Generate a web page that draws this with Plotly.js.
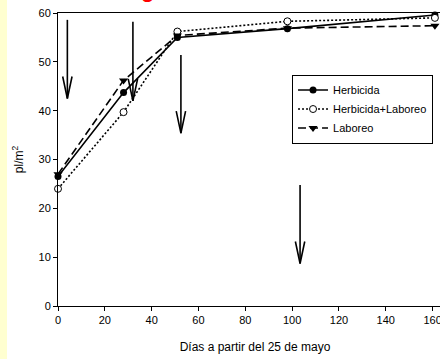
<!DOCTYPE html>
<html>
<head>
<meta charset="utf-8">
<script src="https://cdn.plot.ly/plotly-3.0.1.min.js"></script>
<style>
html, body { margin:0; padding:0; overflow:hidden; }
body { width:440px; height:359px; background: linear-gradient(to right, #FFFFD0 7px, #ffffff 7px); }
#wrap { width:440px; height:359px; overflow:hidden; position:relative; }
#chart { width:452px; height:359px; }
</style>
</head>
<body>
<div id="wrap"><div id="chart"></div></div>
<script>
// Data
var days       = [0, 28, 51, 98, 161];
var herbicida  = [26.5, 43.7, 55.0, 56.8, 59.6];
var herbLab    = [24.0, 39.7, 56.2, 58.3, 59.0];
var laboreo    = [27.0, 46.2, 55.4, 56.9, 57.4];
var seriesNames = ["Herbicida", "Herbicida+Laboreo", "Laboreo"];

// Arrows marking events (x position, top and tip in y units)
var arrowX   = [4, 32, 52.5, 103.4];
var arrowTop = [58.6, 58.2, 51.4, 24.8];
var arrowTip = [42.5, 42.0, 35.4, 8.7];

var xTicks = [0, 20, 40, 60, 80, 100, 120, 140, 160];
var yTicks = [0, 10, 20, 30, 40, 50, 60];

var FONT = "Liberation Sans, Arial, sans-serif";
var traces = [];

// arrows: shaft + open V head
var headLen = 4.5, headHalf = 2.0;
for (var i = 0; i < arrowX.length; i++) {
  var ax = arrowX[i];
  traces.push({
    x: [ax, ax, null, ax - headHalf, ax, ax + headHalf],
    y: [arrowTop[i], arrowTip[i], null, arrowTip[i] + headLen, arrowTip[i], arrowTip[i] + headLen],
    mode: "lines", line: {color: "#000", width: 1.6},
    showlegend: false, hoverinfo: "skip", cliponaxis: false
  });
}

traces.push({
  x: days, y: herbicida, name: seriesNames[0], mode: "lines+markers",
  line: {color: "#000", width: 1.6, dash: "solid"},
  marker: {symbol: "circle", size: 7, color: "#000"}, cliponaxis: false
});
traces.push({
  x: days, y: herbLab, name: seriesNames[1], mode: "lines+markers",
  line: {color: "#000", width: 1.6, dash: "2px,2px"},
  marker: {symbol: "circle", size: 7, color: "#fff", line: {color: "#000", width: 1}}, cliponaxis: false
});
traces.push({
  x: days, y: laboreo, name: seriesNames[2], mode: "lines+markers",
  line: {color: "#000", width: 1.6, dash: "8px,4px"},
  marker: {symbol: "triangle-down", size: 8, color: "#000"}, cliponaxis: false
});

var layout = {
  width: 452, height: 359,
  margin: {l: 57.7, r: 0, t: 12.5, b: 53},
  paper_bgcolor: "rgba(0,0,0,0)",
  plot_bgcolor: "#ffffff",
  font: {family: FONT, size: 11, color: "#000"},
  showlegend: true,
  legend: {
    x: 0.594, y: 0.79, xanchor: "left", yanchor: "top",
    bgcolor: "#fff", bordercolor: "#000", borderwidth: 1,
    font: {family: FONT, size: 11, color: "#000"}
  },
  xaxis: {
    range: [0, 168.3], tickvals: xTicks, ticktext: xTicks.map(String),
    showgrid: false, zeroline: false, showline: true, linecolor: "#000", linewidth: 1,
    mirror: true, ticks: "outside", ticklen: 4, tickcolor: "#000",
    tickfont: {family: FONT, size: 11},
    title: {text: "Días a partir del 25 de mayo", font: {family: FONT, size: 12}, standoff: 17}
  },
  yaxis: {
    range: [0, 60], tickvals: yTicks, ticktext: yTicks.map(String),
    showgrid: false, zeroline: false, showline: true, linecolor: "#000", linewidth: 1,
    ticks: "outside", ticklen: 4, tickcolor: "#000",
    tickfont: {family: FONT, size: 11},
    title: {text: "pl/m<sup>2</sup>", font: {family: FONT, size: 12}, standoff: 12}
  },
  annotations: [{
    text: "g", xref: "paper", yref: "paper", x: 0.2265, y: 1.03,
    xanchor: "center", yanchor: "bottom", showarrow: false,
    font: {family: FONT, size: 22, color: "#ff0000", weight: "bold"}
  }]
};

Plotly.newPlot("chart", traces, layout, {displayModeBar: false, staticPlot: true});
</script>
</body>
</html>
